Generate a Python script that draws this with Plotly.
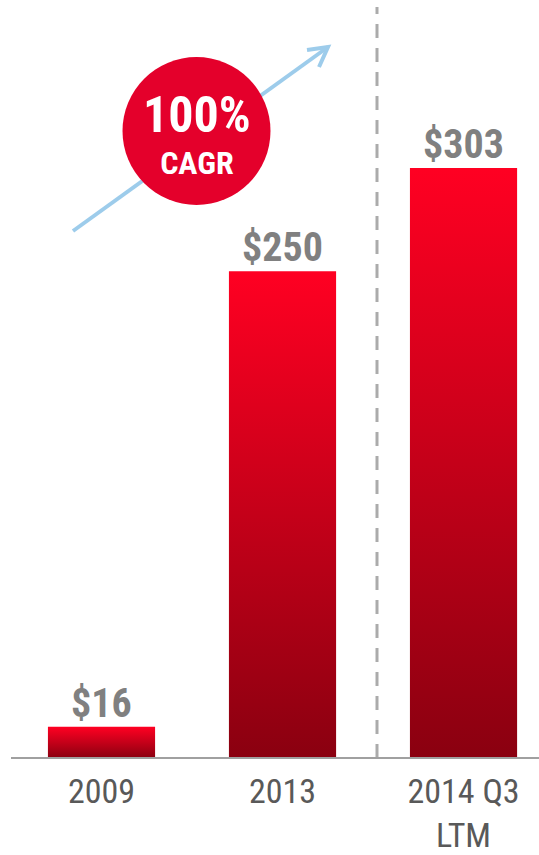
import plotly.graph_objects as go

# Revenue by period ($M)
periods = ["2009", "2013", "2014 Q3<br>LTM"]
values = [16, 250, 303]
value_labels = ["$16", "$250", "$303"]
cagr_text = "100%"
cagr_caption = "CAGR"

# Canvas geometry (pixels)
W, H = 539, 855
M_L, M_R, M_T, M_B = 11, 0, 0, 97
PW, PH = W - M_L - M_R, H - M_T - M_B

NARROW = "Liberation Sans Narrow, Arial Narrow, Roboto Condensed, Liberation Sans, Arial, sans-serif"
BAR_HALF = 0.296
Y_MAX = 389.3
X_RANGE = [-0.5, 2.417]


def px_x(px):
    return (px - M_L) / PW


def px_y(py):
    return (H - M_B - py) / PH


fig = go.Figure()

# Bars drawn as filled rectangles so each one carries its own vertical gradient
for i, v in enumerate(values):
    fig.add_trace(go.Scatter(
        x=[i - BAR_HALF, i + BAR_HALF, i + BAR_HALF, i - BAR_HALF, i - BAR_HALF],
        y=[0, 0, v, v, 0],
        mode="lines",
        line=dict(width=0),
        fill="toself",
        fillgradient=dict(
            type="vertical",
            colorscale=[[0, "rgb(138,0,16)"], [1, "rgb(255,0,34)"]],
        ),
        hoverinfo="skip",
        showlegend=False,
    ))

# Value labels above the bars
for i, (v, t) in enumerate(zip(values, value_labels)):
    fig.add_annotation(
        x=i, y=v, text=f"<b>{t}</b>", showarrow=False,
        xanchor="center", yanchor="bottom", yshift=-2,
        font=dict(family=NARROW, size=40, color="#808080"),
    )

shapes = []
# Dashed divider before the LTM column
shapes.append(dict(
    type="line", xref="paper", yref="paper",
    x0=px_x(377), x1=px_x(377), y0=0, y1=px_y(7),
    line=dict(color="#ABABAB", width=3, dash="14px,10px"),
    layer="below",
))
# Baseline
shapes.append(dict(
    type="line", xref="paper", yref="paper",
    x0=0, x1=1, y0=0, y1=0,
    line=dict(color="#A0A0A0", width=2),
    layer="above",
))
# Growth arrow
ARROW = "rgb(157,204,235)"
shapes.append(dict(
    type="line", xref="paper", yref="paper",
    x0=px_x(73), y0=px_y(231), x1=px_x(328), y1=px_y(47),
    line=dict(color=ARROW, width=4), layer="above",
))
shapes.append(dict(
    type="path", xref="paper", yref="paper",
    path=(f"M {px_x(307)},{px_y(50)} L {px_x(328)},{px_y(47)} "
          f"L {px_x(319)},{px_y(67)}"),
    line=dict(color=ARROW, width=4), layer="above",
))
# CAGR badge
cx, cy, r = 196.5, 131, 74
shapes.append(dict(
    type="circle", xref="paper", yref="paper",
    x0=px_x(cx - r), x1=px_x(cx + r), y0=px_y(cy + r), y1=px_y(cy - r),
    fillcolor="rgb(228,0,43)", line=dict(width=0), layer="above",
))
fig.update_layout(shapes=shapes)

fig.add_annotation(
    xref="paper", yref="paper", x=px_x(cx), y=px_y(134),
    text=f"<span style='font-size:50px'><b>{cagr_text}</b></span><br><b>{cagr_caption}</b>",
    showarrow=False, xanchor="center", yanchor="middle",
    font=dict(family=NARROW, size=32, color="white"),
)

fig.update_layout(
    width=W, height=H,
    margin=dict(l=M_L, r=M_R, t=M_T, b=M_B, pad=0),
    paper_bgcolor="white", plot_bgcolor="white",
    xaxis=dict(
        range=X_RANGE, tickmode="array",
        tickvals=list(range(len(periods))), ticktext=periods,
        showgrid=False, zeroline=False, showline=False,
        ticks="outside", ticklen=3, tickcolor="rgba(0,0,0,0)",
        tickfont=dict(family=NARROW, size=34, color="#595959"),
        automargin=False, fixedrange=True,
    ),
    yaxis=dict(
        range=[0, Y_MAX], visible=False, showgrid=False,
        zeroline=False, fixedrange=True,
    ),
    showlegend=False,
)

fig.write_html("out.html", config={"displayModeBar": False})
